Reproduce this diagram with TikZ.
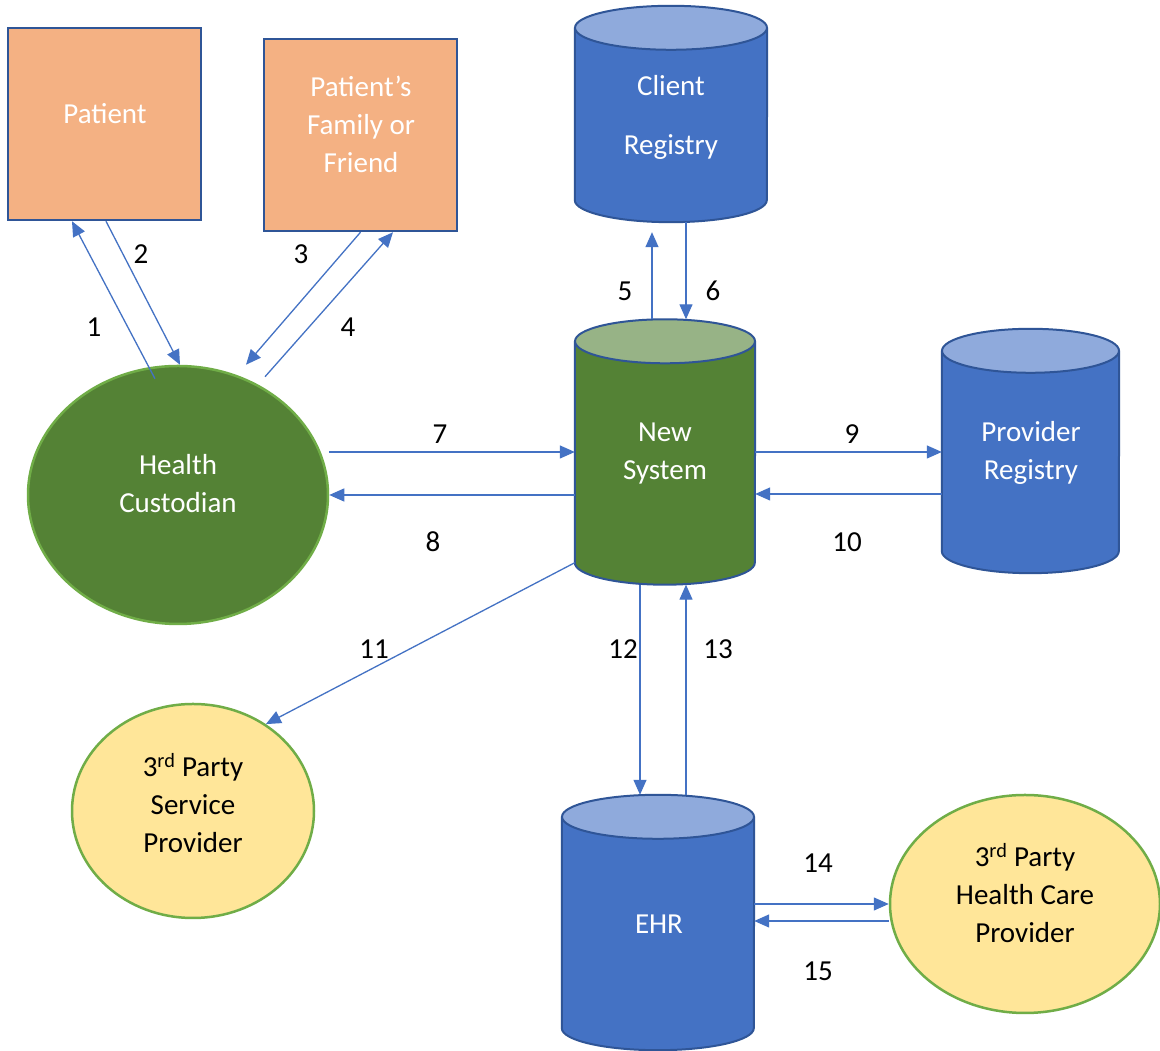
\documentclass[tikz,border=0pt]{standalone}
\usepackage{fontspec}
\setmainfont{Carlito}
\usetikzlibrary{shapes.geometric,arrows.meta,calc}

\definecolor{flowBlue}{RGB}{68,114,196}
\definecolor{edgeBlue}{RGB}{47,85,151}
\definecolor{topBlue}{RGB}{143,170,220}
\definecolor{boxOrange}{RGB}{244,177,131}
\definecolor{bodyGreen}{RGB}{84,130,53}
\definecolor{topGreen}{RGB}{151,179,134}
\definecolor{rimGreen}{RGB}{112,173,71}
\definecolor{partyYellow}{RGB}{255,230,153}

% database cylinder: name, centre, width, full height, side colour, top colour
\newcommand{\datastore}[6]{%
  \node[minimum width=#3pt,minimum height=#4pt,inner sep=0pt] (#1) at #2 {};
  \path[fill=#5,draw=edgeBlue,line width=2pt]
    ([yshift=-22pt]#1.north west) -- ([yshift=22pt]#1.south west)
    arc[start angle=180,end angle=360,x radius=#3/2,y radius=22]
    -- ([yshift=-22pt]#1.north east);
  \path[fill=#6,draw=edgeBlue,line width=2pt]
    ([yshift=-22pt]#1.north) ellipse[x radius=#3/2,y radius=22];
}

\begin{document}
\begin{tikzpicture}[x=1pt,y=1pt,
    person/.style={rectangle,fill=boxOrange,draw=edgeBlue,line width=2.5pt,
                   minimum width=193pt,minimum height=192pt,inner sep=0pt},
    actor/.style={ellipse,draw=rimGreen,line width=2.5pt,inner sep=0pt},
    txt/.style={font=\fontsize{29}{38}\selectfont,text=white,align=center,inner sep=0pt},
    num/.style={font=\fontsize{29}{38}\selectfont,inner sep=0pt},
    flow/.style={draw=flowBlue,line width=1.3pt,-{Triangle[length=15pt,width=13pt]}}
  ]
  \useasboundingbox (0,0) rectangle (1160,1051);
  \fill[white] (0,0) rectangle (1160,1051);

  % people and parties
  \node[person] (pat) at (104.5,927) {};
  \node[person] (fam) at (360.5,916) {};
  \node[actor,fill=bodyGreen,minimum width=300pt,minimum height=258pt] (hc) at (178,556) {};
  \node[actor,fill=partyYellow,minimum width=242pt,minimum height=214pt] (sp) at (193,240) {};
  \node[actor,fill=partyYellow,minimum width=270pt,minimum height=218pt] (hcp) at (1025,147) {};

  % systems
  \datastore{cr}{(671,937)}{192}{216}{flowBlue}{topBlue}
  \datastore{ns}{(665,599)}{180}{265}{bodyGreen}{topGreen}
  \datastore{pr}{(1030.5,600)}{177}{244}{flowBlue}{topBlue}
  \datastore{ehr}{(658,128.5)}{192}{255}{flowBlue}{topBlue}

  % texts
  \node[txt] (t-pat) at (105,937) {Patient};
  \node[txt] (t-fam) at (361,927) {Patient’s\\Family or\\Friend};
  \node[txt] (t-cr) at (671,933.5) {Client\\[21pt]Registry};
  \node[txt] (t-ns) at (665,597) {New\\System};
  \node[txt] (t-hc) at (178,567) {Health\\Custodian};
  \node[txt] (t-pr) at (1031,598) {Provider\\Registry};
  \node[txt] (t-ehr) at (659,127) {EHR};
  \node[txt,text=black] (t-sp) at (193,248) {3\textsuperscript{rd} Party\\Service\\Provider};
  \node[txt,text=black] (t-hcp) at (1025,157.5) {3\textsuperscript{rd} Party\\Health Care\\Provider};

  % data flows
  \draw[flow] ($(hc.north)+(-23,-14)$) -- ([xshift=-32.5pt]pat.south);
  \draw[flow] ([xshift=1.5pt]pat.south) -- ([xshift=2pt]hc.north);
  \draw[flow] (fam.south) -- ($(hc.north)+(68,0)$);
  \draw[flow] ($(hc.north)+(87,-12)$) -- ([xshift=32.5pt]fam.south);
  \draw[flow] ([xshift=-13pt]ns.north) -- ([xshift=-19pt,yshift=-10pt]cr.south);
  \draw[flow] ([xshift=15pt]cr.south) -- ([xshift=21pt]ns.north);
  \draw[flow] (hc.east |- ns.west) -- (ns.west);
  \draw[flow] (ns.west |- hc.east) -- (hc.east);
  \draw[flow] (ns.east) -- (ns.east -| pr.west);
  \coordinate (c10) at ([yshift=-43pt]pr.west);
  \draw[flow] (c10) -- (c10 -| ns.east);
  \draw[flow] ([yshift=22pt]ns.south west) -- (sp.50);
  \draw[flow] ([xshift=-25pt]ns.south) -- ([xshift=-18pt]ehr.north);
  \draw[flow] ([xshift=28pt]ehr.north) -- ([xshift=21pt]ns.south);
  \draw[flow] (ehr.east |- hcp.west) -- (hcp.west);
  \coordinate (c15) at ([yshift=-17pt]hcp.west);
  \draw[flow] (c15) -- (c15 -| ehr.east);

  % step numbers
  \foreach \n/\x/\y in {1/94/724, 2/141/797, 3/301/797, 4/348/724,
                        5/625/760, 6/713/760, 7/440/617, 8/433/509,
                        9/852/617, 10/847/509, 11/374/402, 12/623/402,
                        13/718/402, 14/818/188, 15/818/80}
    \node[num] (n\n) at (\x,\y) {\n};
\end{tikzpicture}
\end{document}
